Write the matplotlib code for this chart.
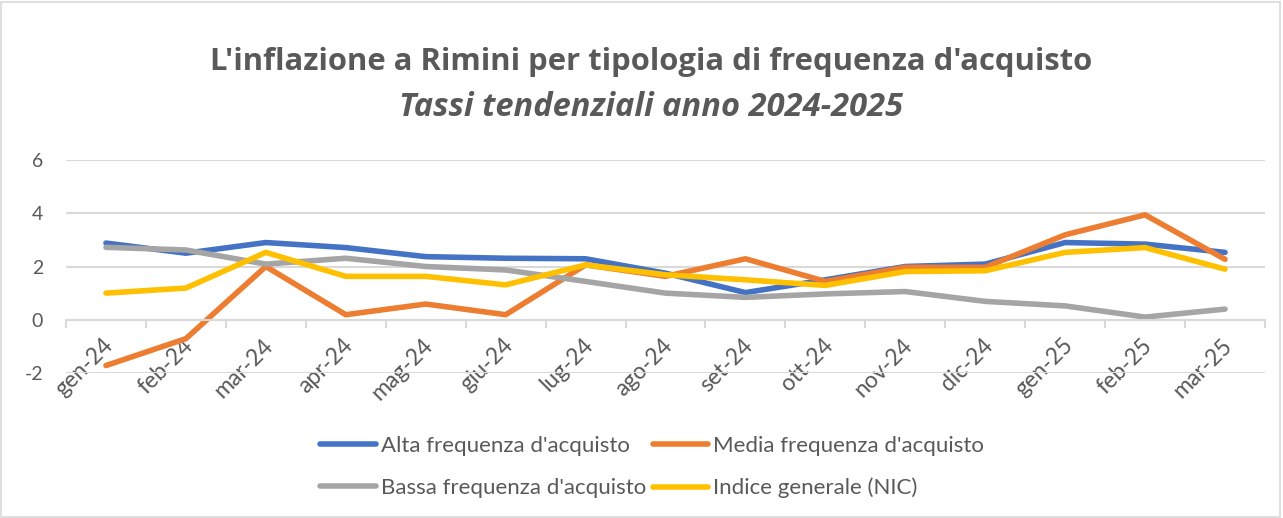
import matplotlib.pyplot as plt
import matplotlib.transforms as mtransforms
import numpy as np
from matplotlib.patches import Rectangle

months = ['gen-24', 'feb-24', 'mar-24', 'apr-24', 'mag-24', 'giu-24', 'lug-24', 'ago-24',
          'set-24', 'ott-24', 'nov-24', 'dic-24', 'gen-25', 'feb-25', 'mar-25']
alta = [2.88, 2.5, 2.9, 2.71, 2.37, 2.31, 2.29, 1.75, 1.02, 1.5, 2.0, 2.09, 2.9, 2.84, 2.53]
media = [-1.72, -0.71, 2.0, 0.19, 0.59, 0.19, 2.06, 1.63, 2.29, 1.44, 1.97, 1.97, 3.19, 3.94, 2.27]
bassa = [2.72, 2.62, 2.09, 2.31, 2.0, 1.87, 1.44, 1.0, 0.84, 0.97, 1.06, 0.69, 0.52, 0.1, 0.4]
nic = [1.0, 1.19, 2.53, 1.63, 1.63, 1.31, 2.06, 1.69, 1.5, 1.29, 1.81, 1.84, 2.53, 2.71, 1.9]
yticks = [-2, 0, 2, 4, 6]

txt = '#595959'
grid = '#d9d9d9'
plt.rcParams['axes.unicode_minus'] = False

fig = plt.figure(figsize=(12.83, 5.18), dpi=100)
fig.patches.append(Rectangle((0.001, 0.002), 0.997, 0.995, transform=fig.transFigure,
                             fill=False, edgecolor=grid, lw=1.2))
ax = fig.add_axes([66 / 1283, 1 - 373 / 518, (1265 - 66) / 1283, (373 - 160) / 518])

x = np.arange(len(months))
series = [(alta, "Alta frequenza d'acquisto", '#4472C4'),
          (media, "Media frequenza d'acquisto", '#ED7D31'),
          (bassa, "Bassa frequenza d'acquisto", '#A5A5A5'),
          (nic, 'Indice generale (NIC)', '#FFC000')]
lines = []
for vals, lab, col in series:
    l, = ax.plot(x, vals, color=col, lw=4, label=lab, solid_capstyle='round', solid_joinstyle='round')
    lines.append(l)

ax.set_xlim(-0.5, len(months) - 0.5)
ax.set_ylim(-2, 6)
ax.set_yticks(yticks)
ax.yaxis.grid(True, color=grid, lw=1.5)
ax.set_axisbelow(True)
for s in ['top', 'right', 'left']:
    ax.spines[s].set_visible(False)
ax.spines['bottom'].set_position(('data', 0))
ax.spines['bottom'].set_color(grid)
ax.spines['bottom'].set_linewidth(1.5)
ax.tick_params(axis='y', length=0, pad=16.5, labelcolor=txt, labelsize=14)
ax.set_xticks(x)
ax.set_xticklabels(months, rotation=45, ha='right', va='center', rotation_mode='anchor')
ax.set_xticks(np.arange(len(months) + 1) - 0.5, minor=True)
ax.tick_params(axis='x', which='major', length=0, pad=16, labelcolor=txt, labelsize=16.5)
ax.tick_params(axis='x', which='minor', length=6, color=grid, width=1.5)
shift = mtransforms.ScaledTranslation(3 / 72, 0, fig.dpi_scale_trans)
for t in ax.get_xticklabels():
    t.set_transform(t.get_transform() + shift)
for t in ax.get_xticklabels() + ax.get_yticklabels():
    t.set_fontfamily('Lato')

fig.text(651 / 1283, 1 - 62 / 518, "L'inflazione a Rimini per tipologia di frequenza d'acquisto",
         ha='center', va='center', fontsize=22.3, fontweight='bold', color=txt, family='Open Sans')
fig.text(651 / 1283, 1 - 107 / 518, 'Tassi tendenziali anno 2024-2025',
         ha='center', va='center', fontsize=23.5, fontweight='bold', style='italic', color=txt,
         family='Open Sans')

order = [0, 2, 1, 3]
fig.legend([lines[i] for i in order], [series[i][1] for i in order],
           loc='center', bbox_to_anchor=(652 / 1283, 1 - 467 / 518), ncol=2, frameon=False,
           prop={'family': 'Lato', 'size': 16}, labelcolor=txt, handlelength=2.5,
           handletextpad=0.22, columnspacing=0.3, labelspacing=1.0)

fig.savefig('out.png', dpi=100)
